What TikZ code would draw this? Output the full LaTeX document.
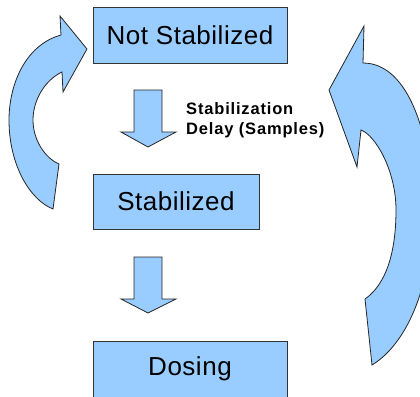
\documentclass[tikz,border=0pt]{standalone}
\usepackage{fontspec}
\setmainfont{Liberation Sans}
\newfontfamily\bigfnt[LetterSpace=2]{Liberation Sans}
\newfontfamily\smallfnt[LetterSpace=5]{Liberation Sans}
\definecolor{boxblue}{HTML}{99CCFF}
\definecolor{boxline}{HTML}{333333}
\begin{document}
\begin{tikzpicture}[x=1pt,y=-1pt,
  statebox/.style={draw=boxline,line width=0.9pt,fill=boxblue,inner sep=0pt,
    font=\bigfnt\fontsize{26}{30}\selectfont},
  blockarrow/.style={draw=black!85,line width=0.8pt,fill=boxblue,line join=miter},
  note/.style={inner sep=0pt,anchor=base west,
    font=\smallfnt\bfseries\fontsize{16.5}{20}\selectfont}]
\clip (0,0) rectangle (420,396);
\fill[white] (0,0) rectangle (420,396);
% state boxes
\node[statebox,minimum width=194pt,minimum height=56pt] (ns) at (190,35) {Not Stabilized};
\node[statebox,minimum width=166pt,minimum height=55pt] (st) at (176,201.5) {Stabilized};
\node[statebox,minimum width=194pt,minimum height=56pt] (dos) at (190,369) {Dosing};
% straight block arrows
\draw[blockarrow] (134,90) -- (162,90) -- (162,132) -- (176,132) -- (148,147)
  -- (121,132) -- (134,132) -- cycle;
\draw[blockarrow] (134,257) -- (162,257) -- (162,299) -- (176,299) -- (148,313)
  -- (121,299) -- (134,299) -- cycle;
% label
\node[note] (lab1) at (186,114) {Stabilization};
\node[note] (lab2) at (186,134) {Delay (Samples)};
% left curved arrow
\draw[blockarrow] (53,209) .. controls (30,200) and (9,165) .. (9,120)
  .. controls (9,85) and (25,45) .. (61,35) -- (60,16) -- (87,49) -- (63,92)
  -- (62,72) .. controls (45,80) and (33,100) .. (33,120)
  .. controls (33,140) and (45,158) .. (59,164) -- cycle;
% right curved arrow
\draw[blockarrow] (372,365) .. controls (405,345) and (432,290) .. (432,210)
  .. controls (432,140) and (410,63) .. (363,63) -- (364,26) -- (329,90)
  -- (357,167) -- (361,130) .. controls (375,135) and (396,170) .. (396,210)
  .. controls (396,255) and (385,285) .. (365,299) -- cycle;
\end{tikzpicture}
\end{document}
